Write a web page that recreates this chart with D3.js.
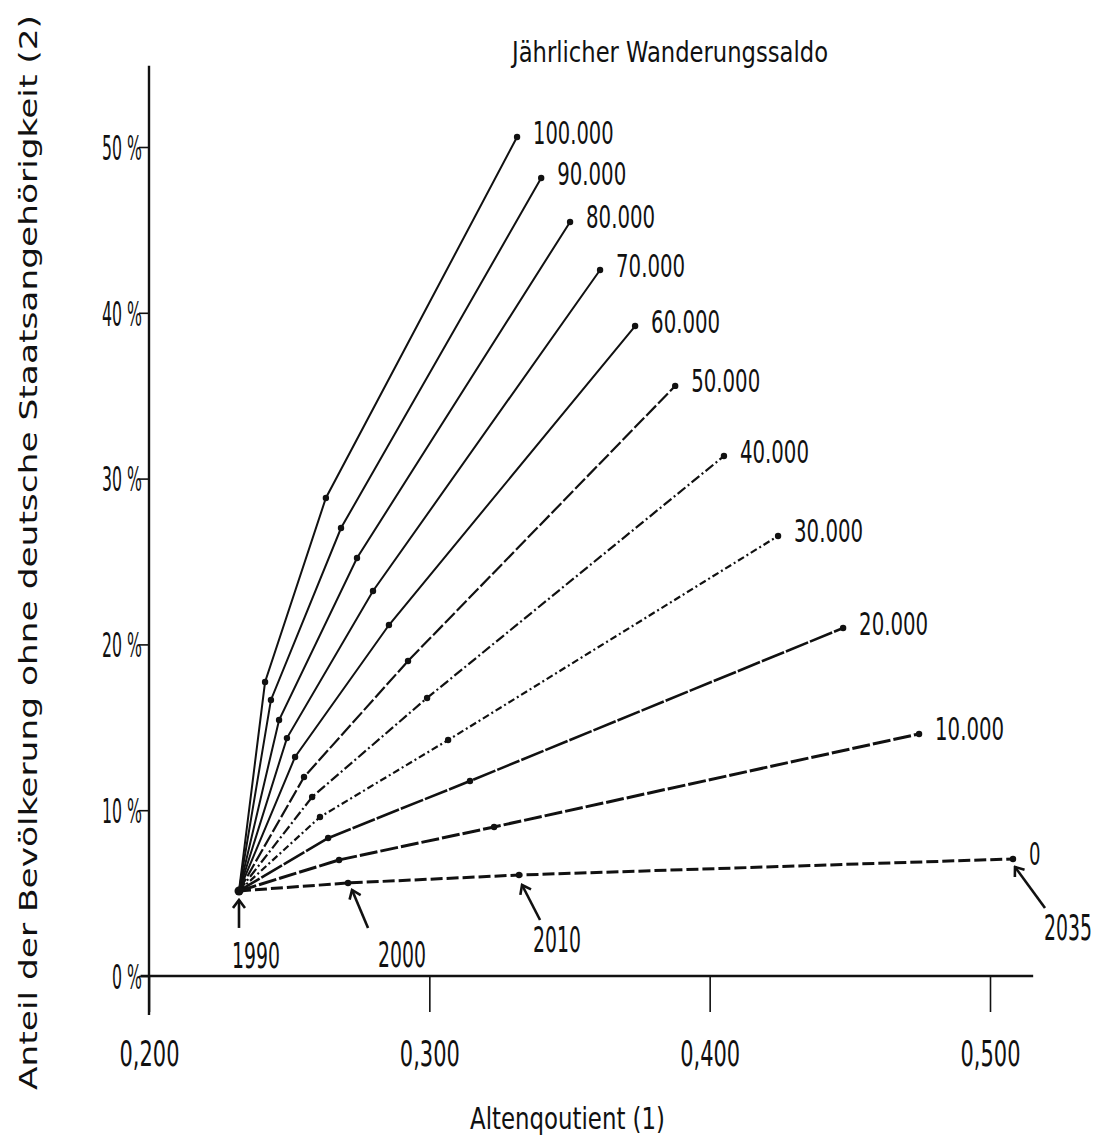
<!DOCTYPE html>
<html>
<head>
<meta charset="utf-8">
<script src="https://cdn.jsdelivr.net/npm/d3@7"></script>
<style>
body { margin: 0; background: #fff; }
text { fill: #111; font-family: "DejaVu Sans Condensed", "DejaVu Sans", sans-serif; }
</style>
</head>
<body>
<div id="chart"></div>
<script>
// data
var years = [1990, 2000, 2010, 2035];
var saldoLabels = ["0", "10.000", "20.000", "30.000", "40.000", "50.000",
                   "60.000", "70.000", "80.000", "90.000", "100.000"];
var altenquotient = [
  [0.2321, 0.2710, 0.3320, 0.5082],
  [0.2321, 0.2678, 0.3231, 0.4747],
  [0.2321, 0.2639, 0.3145, 0.4476],
  [0.2321, 0.2610, 0.3067, 0.4244],
  [0.2321, 0.2582, 0.2992, 0.4051],
  [0.2321, 0.2553, 0.2924, 0.3877],
  [0.2321, 0.2521, 0.2856, 0.3734],
  [0.2321, 0.2492, 0.2799, 0.3609],
  [0.2321, 0.2464, 0.2742, 0.3502],
  [0.2321, 0.2435, 0.2685, 0.3399],
  [0.2321, 0.2414, 0.2631, 0.3313]
];
var anteil = [
  [5.13, 5.61, 6.09, 7.06],
  [5.13, 7.00, 8.99, 14.60],
  [5.13, 8.32, 11.76, 20.99],
  [5.13, 9.59, 14.23, 26.54],
  [5.13, 10.80, 16.77, 31.36],
  [5.13, 12.00, 19.00, 35.59],
  [5.13, 13.21, 21.17, 39.20],
  [5.13, 14.35, 23.22, 42.58],
  [5.13, 15.44, 25.21, 45.48],
  [5.13, 16.65, 27.02, 48.13],
  [5.13, 17.73, 28.83, 50.60]
];
var xTicks = [0.2, 0.3, 0.4, 0.5];
var yTicks = [0, 10, 20, 30, 40, 50];

// line look per series (0 ... 100.000)
var dashes = ["12,4", "18,3", "24,2", "7,3,2,3", "10,3,2,3", "14,3", null, null, null, null, null];
var widths = [3, 3, 2.6, 2.2, 2.2, 2.2, 2, 2, 2, 2, 2];

// year arrows, offsets from the points of the "0" line
var arrowLayout = [
  { tip: [0, 9], tail: [0, 37], text: [17, 77] },
  { tip: [4, 7], tail: [20, 45], text: [54, 84] },
  { tip: [3, 10], tail: [21, 45], text: [38, 77] },
  { tip: [2, 8], tail: [32, 49], text: [55, 81] }
];

var width = 1101, height = 1137;

var x = d3.scaleLinear().domain([0.2, 0.5]).range([149, 990]);
var y = d3.scaleLinear().domain([0, 50]).range([976, 147]);

var svg = d3.select("#chart").append("svg")
  .attr("width", width)
  .attr("height", height)
  .style("background", "#fff");

svg.append("defs").append("marker")
  .attr("id", "chev")
  .attr("viewBox", "-10 -7 12 14")
  .attr("refX", 0).attr("refY", 0)
  .attr("markerWidth", 12).attr("markerHeight", 14)
  .attr("markerUnits", "userSpaceOnUse")
  .attr("orient", "auto")
  .append("path")
  .attr("d", "M-8,-6 L0,0 L-8,6")
  .attr("fill", "none")
  .attr("stroke", "#111")
  .attr("stroke-width", 2.6);

// axes
var xAxis = svg.append("g")
  .attr("transform", "translate(0," + y(0) + ")")
  .call(d3.axisBottom(x).tickValues(xTicks).tickSize(36)
    .tickFormat(function (d) { return d.toFixed(3).replace(".", ","); }));
xAxis.select(".domain").remove();
xAxis.selectAll("line").attr("stroke", "#111").attr("stroke-width", 1.6);
xAxis.selectAll("text")
  .attr("y", 90).attr("dy", 0)
  .attr("font-size", 35)
  .attr("textLength", 60).attr("lengthAdjust", "spacingAndGlyphs")
  .style("font-family", null).attr("fill", "#111");

var yAxis = svg.append("g")
  .attr("transform", "translate(" + x(0.2) + ",0)")
  .call(d3.axisLeft(y).tickValues(yTicks).tickSize(10)
    .tickFormat(function (d) { return d + " %"; }));
yAxis.select(".domain").remove();
yAxis.selectAll("line").attr("stroke", "#111").attr("stroke-width", 1.6);
yAxis.selectAll("text")
  .attr("x", -7).attr("dy", "0.36em")
  .attr("font-size", 34)
  .attr("textLength", function (d) { return (d + " %").length * 10; })
  .attr("lengthAdjust", "spacingAndGlyphs")
  .style("font-family", null).attr("fill", "#111");

svg.append("line")
  .attr("x1", x(0.2)).attr("x2", x(0.2))
  .attr("y1", y(54.9)).attr("y2", y(-2.35))
  .attr("stroke", "#111").attr("stroke-width", 2.4);
svg.append("line")
  .attr("x1", x(0.197)).attr("x2", x(0.5154))
  .attr("y1", y(0)).attr("y2", y(0))
  .attr("stroke", "#111").attr("stroke-width", 2.4);

// series
var series = saldoLabels.map(function (name, s) {
  return {
    name: name,
    idx: s,
    pts: years.map(function (yr, i) {
      return { year: yr, q: altenquotient[s][i], p: anteil[s][i] };
    })
  };
});

var line = d3.line()
  .x(function (d) { return x(d.q); })
  .y(function (d) { return y(d.p); });

svg.append("g").selectAll("path").data(series).enter().append("path")
  .attr("d", function (d) { return line(d.pts); })
  .attr("fill", "none")
  .attr("stroke", "#111")
  .attr("stroke-width", function (d) { return widths[d.idx]; })
  .attr("stroke-dasharray", function (d) { return dashes[d.idx]; });

svg.append("g").selectAll("circle")
  .data(d3.merge(series.map(function (d) { return d.pts.slice(1); })))
  .enter().append("circle")
  .attr("cx", function (d) { return x(d.q); })
  .attr("cy", function (d) { return y(d.p); })
  .attr("r", 3.2)
  .attr("fill", "#111");

svg.append("circle")
  .attr("cx", x(series[0].pts[0].q))
  .attr("cy", y(series[0].pts[0].p))
  .attr("r", 4.5)
  .attr("fill", "#111");

// saldo labels at the 2035 ends
svg.append("g").selectAll("text").data(series).enter().append("text")
  .attr("x", function (d) { return x(d.pts[3].q) + 16; })
  .attr("y", function (d) { return y(d.pts[3].p) - 5; })
  .attr("dy", "0.36em")
  .attr("font-size", 32)
  .attr("textLength", function (d) { return d.name.length * 11.5; })
  .attr("lengthAdjust", "spacingAndGlyphs")
  .text(function (d) { return d.name; });

// year arrows on the "0" line
var base = series[0].pts;
arrowLayout.forEach(function (a, i) {
  var px = x(base[i].q), py = y(base[i].p);
  svg.append("line")
    .attr("x1", px + a.tail[0]).attr("y1", py + a.tail[1])
    .attr("x2", px + a.tip[0]).attr("y2", py + a.tip[1])
    .attr("stroke", "#111").attr("stroke-width", 2.6)
    .attr("marker-end", "url(#chev)");
  // narrow the year text with a scale so its box stays 48px wide
  var t = svg.append("text")
    .attr("text-anchor", "middle")
    .attr("font-size", 35)
    .text(base[i].year);
  var natural = t.node().getComputedTextLength() || 80;
  t.attr("transform", "translate(" + (px + a.text[0]) + "," + (py + a.text[1]) + ") scale(" + (48 / natural) + ",1)");
});

// titles
svg.append("text")
  .attr("x", 512).attr("y", 62)
  .attr("font-size", 29)
  .attr("textLength", 316).attr("lengthAdjust", "spacingAndGlyphs")
  .text("Jährlicher Wanderungssaldo");

svg.append("text")
  .attr("x", 470).attr("y", 1129)
  .attr("font-size", 31)
  .attr("textLength", 195).attr("lengthAdjust", "spacingAndGlyphs")
  .text("Altenqoutient (1)");

svg.append("text")
  .attr("transform", "translate(37,1090) rotate(-90)")
  .attr("font-size", 25)
  .attr("textLength", 1075).attr("lengthAdjust", "spacingAndGlyphs")
  .style("font-family", "'DejaVu Sans', sans-serif")
  .text("Anteil der Bevölkerung ohne deutsche Staatsangehörigkeit (2)");
</script>
</body>
</html>
